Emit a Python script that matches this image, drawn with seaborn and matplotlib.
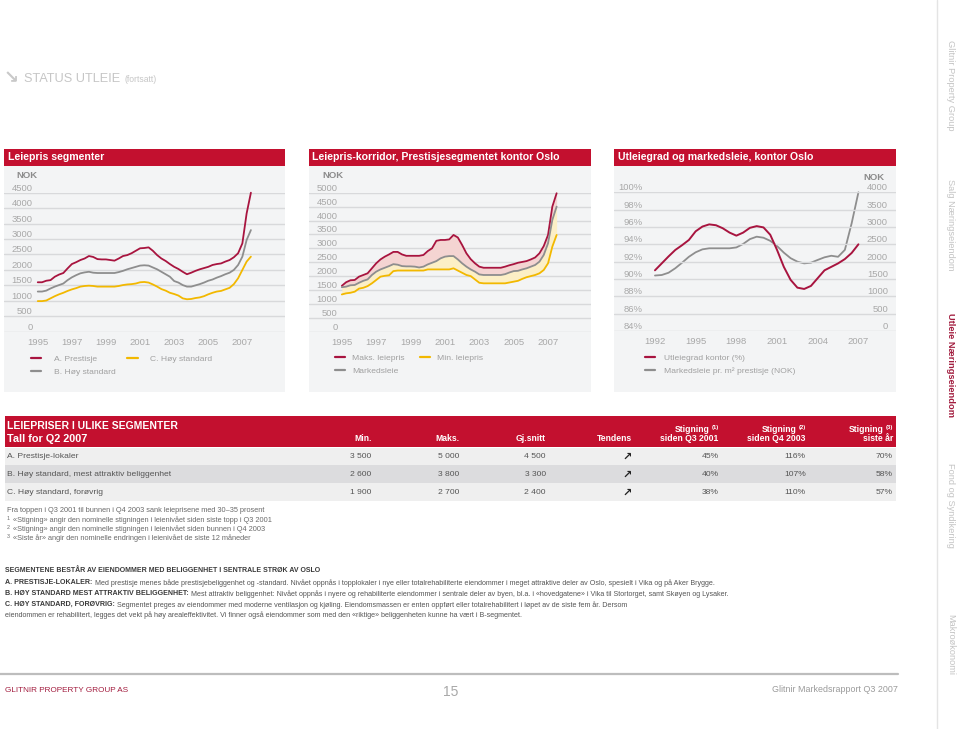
import matplotlib
matplotlib.use('Agg')
import matplotlib.pyplot as plt
import seaborn as sns
import pandas as pd
import numpy as np
from matplotlib.patches import Rectangle
from matplotlib.lines import Line2D

# ---- data -------------------------------------------------------------
quarters = np.arange(1995, 2007.51, 0.25)          # 1995 Q1 .. 2007 Q3
half_years = np.arange(1992, 2007.01, 0.5)

# Leiepris segmenter (NOK)
seg_a = [1600, 1600, 1650, 1670, 1780, 1850, 1900, 2050, 2190, 2250, 2320, 2370,
         2450, 2420, 2350, 2340, 2340, 2320, 2300, 2370, 2450, 2480, 2540, 2620,
         2700, 2710, 2730, 2620, 2480, 2370, 2290, 2190, 2100, 2030, 1940, 1860,
         1910, 1970, 2020, 2060, 2100, 2160, 2190, 2210, 2270, 2320, 2410, 2540,
         2860, 3830, 4500]
seg_b = [1300, 1300, 1330, 1400, 1460, 1510, 1560, 1670, 1760, 1830, 1890, 1920,
         1940, 1910, 1900, 1900, 1900, 1900, 1900, 1930, 1970, 2020, 2060, 2100,
         2140, 2150, 2140, 2080, 2020, 1940, 1860, 1780, 1640, 1590, 1510, 1460,
         1460, 1500, 1540, 1590, 1650, 1690, 1750, 1800, 1860, 1910, 2000, 2160,
         2430, 2970, 3290]
seg_c = [990, 990, 1010, 1080, 1150, 1210, 1260, 1320, 1370, 1410, 1460, 1480,
         1490, 1480, 1460, 1460, 1460, 1460, 1460, 1480, 1510, 1530, 1540, 1560,
         1600, 1610, 1590, 1530, 1460, 1380, 1330, 1260, 1220, 1170, 1080, 1050,
         1060, 1090, 1110, 1150, 1210, 1260, 1300, 1320, 1370, 1420, 1540, 1730,
         2000, 2270, 2430]
seg_names = ['A. Prestisje', 'B. Høy standard', 'C. Høy standard']

# Leiepris-korridor, prestisje (NOK)
kor_maks = [1650, 1780, 1850, 1860, 1980, 2040, 2100, 2280, 2460, 2600, 2700, 2780,
            2870, 2870, 2780, 2730, 2730, 2730, 2730, 2760, 2900, 3000, 3270, 3300,
            3300, 3320, 3480, 3390, 3120, 2820, 2610, 2460, 2340, 2300, 2300, 2300,
            2300, 2300, 2340, 2390, 2430, 2480, 2510, 2540, 2600, 2670, 2820, 3080,
            3480, 4500, 4980]
kor_marked = [1600, 1620, 1670, 1680, 1760, 1830, 1880, 2040, 2160, 2240, 2300, 2360,
              2430, 2410, 2360, 2350, 2350, 2340, 2310, 2340, 2420, 2480, 2540, 2640,
              2700, 2720, 2720, 2600, 2460, 2340, 2240, 2160, 2060, 2040, 2040, 2040,
              2040, 2040, 2070, 2130, 2180, 2190, 2240, 2280, 2340, 2400, 2520, 2760,
              3180, 4020, 4500]
kor_min = [1340, 1380, 1400, 1440, 1550, 1580, 1640, 1740, 1860, 1980, 2010, 2030,
           2180, 2200, 2200, 2200, 2200, 2200, 2200, 2200, 2240, 2240, 2240, 2240,
           2240, 2240, 2280, 2200, 2120, 2040, 2000, 1880, 1760, 1740, 1740, 1740,
           1740, 1740, 1740, 1770, 1800, 1830, 1900, 1960, 2000, 2040, 2100, 2220,
           2460, 3060, 3480]

# Utleiegrad og markedsleie, kontor Oslo
utleiegrad = [91.0, 91.8, 92.6, 93.35, 93.9, 94.5, 95.5, 96.05, 96.3, 96.2,
              95.85, 95.35, 95.0, 95.35, 95.9, 96.1, 95.95, 95.1, 93.35, 91.4,
              89.9, 89.0, 88.85, 89.2, 90.1, 91.0, 91.4, 91.8, 92.3, 93.0, 94.0]
markedsleie = [1600, 1615, 1680, 1810, 1970, 2140, 2270, 2355, 2385, 2385,
               2385, 2385, 2410, 2510, 2650, 2720, 2690, 2600, 2450, 2260,
               2100, 2000, 1950, 1970, 2050, 2125, 2170, 2140, 2340, 3105, 4000]

# Tabell: leiepriser i ulike segmenter
tab_rows = ['A. Prestisje-lokaler', 'B. Høy standard, mest attraktiv beliggenhet',
            'C. Høy standard, forøvrig']
tab_min = ['3 500', '2 600', '1 900']
tab_maks = ['5 000', '3 800', '2 700']
tab_snitt = ['4 500', '3 300', '2 400']
tab_st1 = ['45%', '40%', '38%']
tab_st2 = ['116%', '107%', '110%']
tab_st3 = ['70%', '58%', '57%']

# ---- style ------------------------------------------------------------
RED = '#c3102f'
PANEL_BG = '#f3f4f5'
GRID = '#d8d9db'
TICK = '#a8a8a8'
LEG = '#a0a0a0'
C_RED = '#a8143f'
C_GRAY = '#8e8e8e'
C_YEL = '#f2b800'
DARK = '#3a3a3a'

sns.set_theme(style='white')
plt.rcParams['font.family'] = ['Liberation Sans Narrow', 'Liberation Sans', 'DejaVu Sans']

W, H = 960, 729
fig = plt.figure(figsize=(W / 100, H / 100), dpi=100)
fig.patch.set_facecolor('white')
renderer = fig.canvas.get_renderer()


def rect(x0, y0, x1, y1):
    return [x0 / W, 1 - y1 / H, (x1 - x0) / W, (y1 - y0) / H]


def box(x0, y0, x1, y1, color):
    fig.patches.append(Rectangle((x0 / W, 1 - y1 / H), (x1 - x0) / W, (y1 - y0) / H,
                                 transform=fig.transFigure, facecolor=color,
                                 edgecolor='none', zorder=-5))


def ftext(x, y, s, **kw):
    kw.setdefault('va', 'center')
    return fig.text(x / W, 1 - y / H, s, **kw)


def panel(x0, x1, title):
    box(x0, 149, x1, 166, RED)
    ftext(x0 + 3.5, 157.5, title, color='white', fontsize=7.6, fontweight='bold')
    box(x0, 166, x1, 392, PANEL_BG)


def style_axes(ax, yticks, ylabels, pad_px):
    ax.set_facecolor('none')
    for s in ax.spines.values():
        s.set_visible(False)
    ax.set_yticks(yticks)
    ax.set_yticklabels(ylabels)
    ax.grid(axis='y', color=GRID, linewidth=1.0)
    ax.grid(axis='x', visible=False)
    ax.tick_params(axis='y', length=0, pad=-pad_px * 0.72, labelsize=6.8, labelcolor=TICK)
    ax.tick_params(axis='x', length=0, pad=4.5, labelsize=6.8, labelcolor=TICK)
    plt.setp(ax.get_yticklabels(), va='bottom')
    ax.set_xlabel('')
    ax.set_ylabel('')


def legend(ax, handles, labels, x, y, ncol, textpad, colspace):
    ax.legend(handles, labels, loc='upper left', bbox_to_anchor=(x / W, 1 - y / H),
              bbox_transform=fig.transFigure, frameon=False, ncol=ncol,
              borderpad=0, borderaxespad=0, handlelength=1.2, handletextpad=textpad,
              labelspacing=0.55, columnspacing=colspace, fontsize=6.1, labelcolor=LEG)


def h(color):
    return Line2D([], [], color=color, linewidth=1.6)


# ---- top title --------------------------------------------------------
ftext(4, 78, '↘', fontsize=13, fontweight='bold', color='#c9c9c9', family='DejaVu Sans')
st = ftext(24, 79, 'STATUS UTLEIE', fontsize=9.2, color='#c6c6c6')
bb = st.get_window_extent(renderer)
ftext(bb.x1 + 4, 79.5, '(fortsatt)', fontsize=6.2, color='#c6c6c6')

# ---- panel 1: Leiepris segmenter --------------------------------------
panel(4, 285, 'Leiepris segmenter')
ax1 = fig.add_axes(rect(4, 192.7, 285, 331.7))
seg = pd.DataFrame({'År': quarters, seg_names[0]: seg_a, seg_names[1]: seg_b,
                    seg_names[2]: seg_c})
seg_long = seg.melt(id_vars='År', var_name='Segment', value_name='NOK')
sns.lineplot(data=seg_long, x='År', y='NOK', hue='Segment', hue_order=seg_names,
             palette=[C_RED, C_GRAY, C_YEL], linewidth=1.3, legend=False, ax=ax1)
ax1.set_xlim(1993.02, 2009.5)
ax1.set_ylim(0, 4500)
ax1.set_xticks(range(1995, 2008, 2))
style_axes(ax1, range(0, 4501, 500), [str(v) for v in range(0, 4501, 500)], 28.7)
ftext(16, 175, 'NOK', fontsize=6.8, fontweight='bold', color='#8c8c8c')
legend(ax1, [h(C_RED), h(C_GRAY), h(C_YEL)], seg_names, 31, 355.5, 2, 1.5, 1.4)

# ---- panel 2: Leiepris-korridor ---------------------------------------
panel(309, 591, 'Leiepris-korridor, Prestisjesegmentet kontor Oslo')
ax2 = fig.add_axes(rect(309, 192.7, 591, 331.7))
kor = pd.DataFrame({'År': quarters, 'Maks. leiepris': kor_maks,
                    'Markedsleie': kor_marked, 'Min. leiepris': kor_min})
ax2.fill_between(kor['År'], kor['Maks. leiepris'], kor['Markedsleie'],
                 color='#f4d4d2', linewidth=0, zorder=1)
ax2.fill_between(kor['År'], kor['Markedsleie'], kor['Min. leiepris'],
                 color='#fcefc6', linewidth=0, zorder=1)
kor_long = kor.melt(id_vars='År', var_name='Serie', value_name='NOK')
sns.lineplot(data=kor_long, x='År', y='NOK', hue='Serie',
             hue_order=['Maks. leiepris', 'Markedsleie', 'Min. leiepris'],
             palette=[C_RED, C_GRAY, C_YEL], linewidth=1.3, legend=False, ax=ax2)
ax2.set_xlim(1993.09, 2009.5)
ax2.set_ylim(0, 5000)
ax2.set_xticks(range(1995, 2008, 2))
style_axes(ax2, range(0, 5001, 500), [str(v) for v in range(0, 5001, 500)], 28.5)
ftext(322, 175, 'NOK', fontsize=6.8, fontweight='bold', color='#8c8c8c')
legend(ax2, [h(C_RED), h(C_GRAY), h(C_YEL)], ['Maks. leiepris', 'Markedsleie', 'Min. leiepris'],
       335, 354.5, 2, 0.8, 1.8)

# ---- panel 3: Utleiegrad og markedsleie -------------------------------
panel(614, 896, 'Utleiegrad og markedsleie, kontor Oslo')
ax3 = fig.add_axes(rect(614, 192.3, 896, 331))
ax3r = ax3.twinx()
sns.lineplot(x=half_years, y=markedsleie, color=C_GRAY, linewidth=1.3, ax=ax3r)
sns.lineplot(x=half_years, y=utleiegrad, color=C_RED, linewidth=1.4, ax=ax3)
ax3.set_zorder(ax3r.get_zorder() + 1)
ax3.set_xlim(1988.98, 2009.77)
ax3.set_ylim(84, 100)
ax3r.set_ylim(0, 4000)
ax3.set_xticks(range(1992, 2008, 3))
style_axes(ax3, range(84, 101, 2), [f'{v}%' for v in range(84, 101, 2)], 28.3)
ax3r.set_facecolor('none')
for s in ax3r.spines.values():
    s.set_visible(False)
ax3r.grid(False)
ax3r.set_yticks(range(0, 4001, 500))
ax3r.set_yticklabels([str(v) for v in range(0, 4001, 500)])
ax3r.tick_params(axis='y', length=0, pad=-8 * 0.72, labelsize=6.8, labelcolor=TICK)
plt.setp(ax3r.get_yticklabels(), va='bottom', ha='right')
ax3r.set_ylabel('')
ftext(885, 177, 'NOK', fontsize=6.8, fontweight='bold', color='#8c8c8c', ha='right')
legend(ax3, [h(C_RED), h(C_GRAY)], ['Utleiegrad kontor (%)', 'Markedsleie pr. m² prestisje (NOK)'],
       645, 354, 1, 1.1, 1.0)

for ax in (ax1, ax2, ax3, ax3r):
    for ln in ax.lines:
        ln.set_clip_on(False)

# ---- table ------------------------------------------------------------
box(5, 415.5, 896, 447, RED)
ftext(7, 426, 'LEIEPRISER I ULIKE SEGMENTER', fontsize=7.5, fontweight='bold', color='white')
ftext(7, 438.5, 'Tall for Q2 2007', fontsize=7.8, fontweight='bold', color='white')
hdr = dict(fontsize=6.2, fontweight='bold', color='white', ha='right')
ftext(371.7, 438.5, 'Min.', **hdr)
ftext(459, 438.5, 'Maks.', **hdr)
ftext(545.7, 438.5, 'Gj.snitt', **hdr)
ftext(632, 438.5, 'Tendens', **hdr)
for xr, line2, n in [(718.7, 'siden Q3 2001', '(1)'), (805.7, 'siden Q4 2003', '(2)'),
                     (893, 'siste år', '(3)')]:
    ftext(xr, 427.5, n, fontsize=4.2, fontweight='bold', color='white', ha='right')
    ftext(xr - 9, 429, 'Stigning', **hdr)
    ftext(xr, 438.5, line2, **hdr)

row_y = [456.5, 474.3, 492.3]
row_bg = ['#efefef', '#dcdcde', '#efefef']
cell = dict(fontsize=6.1, color='#555555', ha='right')
for i, y in enumerate(row_y):
    box(5, y - 9, 896, y + 9, row_bg[i])
    ftext(7, y, tab_rows[i], fontsize=6.1, color='#555555')
    ftext(371.7, y, tab_min[i], **cell)
    ftext(459, y, tab_maks[i], **cell)
    ftext(545.7, y, tab_snitt[i], **cell)
    ftext(627, y, '↗', fontsize=8, fontweight='bold', color='#222222', ha='center',
          family='DejaVu Sans')
    ftext(718.7, y, tab_st1[i], **cell)
    ftext(805.7, y, tab_st2[i], **cell)
    ftext(893, y, tab_st3[i], **cell)

note = dict(fontsize=5.3, color='#6a6a6a')
ftext(7, 510.3, 'Fra toppen i Q3 2001 til bunnen i Q4 2003 sank leieprisene med 30–35 prosent', **note)
notes = ['«Stigning» angir den nominelle stigningen i leienivået siden siste topp i Q3 2001',
         '«Stigning» angir den nominelle stigningen i leienivået siden bunnen i Q4 2003',
         '«Siste år» angir den nominelle endringen i leienivået de siste 12 måneder']
for i, (s, y) in enumerate(zip(notes, [519.7, 528.7, 537.7])):
    ftext(7, y - 1, str(i + 1), fontsize=3.8, color='#6a6a6a')
    ftext(13, y, s, **note)

# ---- segment description ----------------------------------------------
ftext(5, 571, 'SEGMENTENE BESTÅR AV EIENDOMMER MED BELIGGENHET I SENTRALE STRØK AV OSLO',
      fontsize=5.0, fontweight='bold', color=DARK)
desc = [
    (582.7, 'A. PRESTISJE-LOKALER:',
     'Med prestisje menes både prestisjebeliggenhet og -standard. Nivået oppnås i topplokaler i nye '
     'eller totalrehabiliterte eiendommer i meget attraktive deler av Oslo, spesielt i Vika og på Aker Brygge.'),
    (593.7, 'B. HØY STANDARD MEST ATTRAKTIV BELIGGENHET:',
     'Mest attraktiv beliggenhet: Nivået oppnås i nyere og rehabiliterte eiendommer i sentrale deler '
     'av byen, bl.a. i «hovedgatene» i Vika til Stortorget, samt Skøyen og Lysaker.'),
    (604.7, 'C. HØY STANDARD, FORØVRIG:',
     'Segmentet preges av eiendommer med moderne ventilasjon og kjøling. Eiendomsmassen er enten '
     'oppført eller totalrehabilitert i løpet av de siste fem år. Dersom'),
]
for y, bold, rest in desc:
    t = ftext(5, y, bold, fontsize=5.1, fontweight='bold', color=DARK)
    bb = t.get_window_extent(renderer)
    ftext(bb.x1 + 2.5, y, rest, fontsize=5.1, color='#555555')
ftext(5, 615.3, 'eiendommen er rehabilitert, legges det vekt på høy arealeffektivitet. Vi finner også '
      'eiendommer som med den «riktige» beliggenheten kunne ha vært i B-segmentet.',
      fontsize=5.1, color='#555555')

# ---- footer -----------------------------------------------------------
fig.lines.append(Line2D([0, 898 / W], [1 - 674 / H, 1 - 674 / H], transform=fig.transFigure,
                        color='#bdbdbd', linewidth=1.6))
ftext(5, 690, 'GLITNIR PROPERTY GROUP AS', fontsize=5.9, color='#a21c3e')
ftext(451, 692, '15', fontsize=10, color='#a8a8a8', ha='center')
ftext(898, 690, 'Glitnir Markedsrapport Q3 2007', fontsize=6.4, color='#9a9a9a', ha='right')

# ---- side navigation --------------------------------------------------
fig.lines.append(Line2D([937 / W, 937 / W], [0, 1], transform=fig.transFigure,
                        color='#e4e4e4', linewidth=1.0))
nav = [('Glitnir Property Group', 85), ('Salg Næringseiendom', 225),
       ('Utleie Næringseiendom', 365), ('Fond og Syndikering', 505), ('Makroøkonomi', 645)]
for s, y in nav:
    active = s.startswith('Utleie')
    ftext(951, y, s, fontsize=6.7, rotation=270, ha='center',
          color='#a21c3e' if active else '#c4c4c4', fontweight='bold' if active else 'normal')

fig.savefig('out.png', dpi=100)
